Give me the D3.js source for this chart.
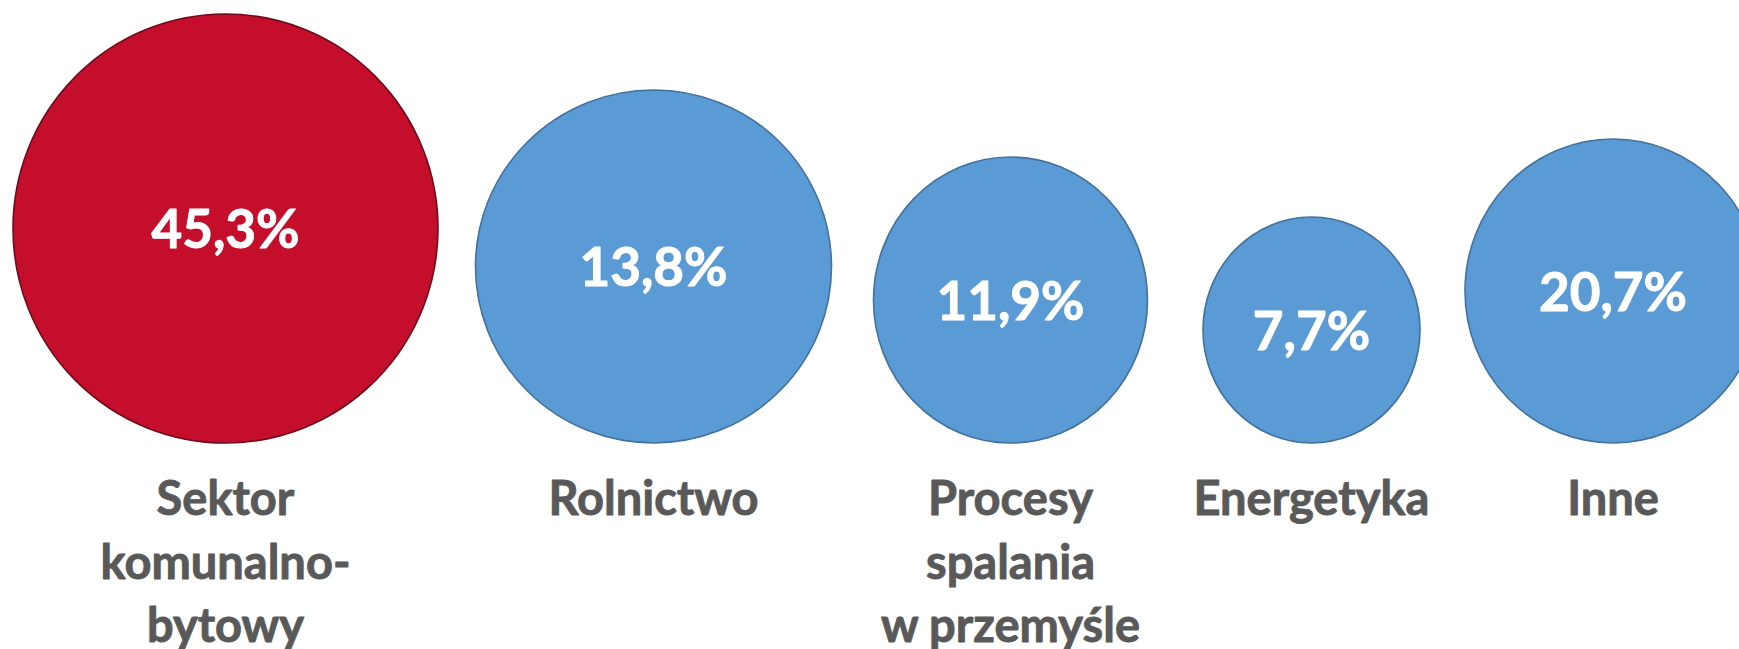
<!DOCTYPE html>
<html lang="pl">
<head>
<meta charset="utf-8">
<script src="https://cdn.jsdelivr.net/npm/d3@7"></script>
<style>
  html, body { margin: 0; padding: 0; background: #ffffff; }
  svg { display: block; }
</style>
</head>
<body>
<div id="chart"></div>
<script>
// Źródła emisji – udział procentowy
const categories = ["Sektor komunalno-bytowy", "Rolnictwo", "Procesy spalania w przemyśle", "Energetyka", "Inne"];
const labelLines = [
  ["Sektor", "komunalno-", "bytowy"],
  ["Rolnictwo"],
  ["Procesy", "spalania", "w przemyśle"],
  ["Energetyka"],
  ["Inne"]
];
const shares = [45.3, 13.8, 11.9, 7.7, 20.7];
const highlighted = "Sektor komunalno-bytowy";

const width = 1739, height = 649;

const svg = d3.select("#chart").append("svg")
  .attr("width", width)
  .attr("height", height);

// Bubble layout along the row
const xScale = d3.scaleOrdinal().domain(categories).range([225.5, 653.5, 1010.5, 1311.5, 1613]);
const rxScale = d3.scaleOrdinal().domain(categories).range([212.5, 178, 137, 108.5, 148]);
const ryScale = d3.scaleOrdinal().domain(categories).range([214.5, 176.5, 143, 113, 152]);
const baseLine = 443; // all bubbles sit on a common bottom line

const fillScale = d3.scaleOrdinal().domain([true, false]).range(["#C40E2C", "#5B9BD5"]);
const strokeScale = d3.scaleOrdinal().domain([true, false]).range(["#6E0A1A", "#41719C"]);

const data = categories.map((c, i) => ({ cat: c, value: shares[i], lines: labelLines[i] }));
const fmt = v => d3.format(".1f")(v).replace(".", ",") + "%";

const fontFamily = "Lato, 'Open Sans', sans-serif";
const valueSize = 53;
const capRatio = 0.7165;

const g = svg.append("g");

const bubbles = g.selectAll("g.bubble")
  .data(data)
  .join("g")
  .attr("class", "bubble");

bubbles.append("ellipse")
  .attr("cx", d => xScale(d.cat))
  .attr("cy", d => baseLine - ryScale(d.cat))
  .attr("rx", d => rxScale(d.cat))
  .attr("ry", d => ryScale(d.cat))
  .attr("fill", d => fillScale(d.cat === highlighted))
  .attr("stroke", d => strokeScale(d.cat === highlighted))
  .attr("stroke-width", 1.6);

// Value inside each bubble
bubbles.append("text")
  .attr("x", d => xScale(d.cat))
  .attr("y", d => baseLine - ryScale(d.cat) + valueSize * capRatio / 2 + 1)
  .attr("text-anchor", "middle")
  .attr("font-family", fontFamily)
  .attr("font-weight", 700)
  .attr("font-size", valueSize)
  .attr("fill", "#ffffff")
  .attr("stroke", "#ffffff")
  .attr("stroke-width", 1)
  .attr("stroke-linejoin", "round")
  .text(d => fmt(d.value));

// Category names under the bubbles
const lineTop = 515, lineStep = 63.5;
bubbles.append("text")
  .attr("text-anchor", "middle")
  .attr("font-family", fontFamily)
  .attr("font-weight", 700)
  .attr("font-size", 47)
  .attr("fill", "#595959")
  .attr("stroke", "#595959")
  .attr("stroke-width", 0.9)
  .attr("stroke-linejoin", "round")
  .selectAll("tspan")
  .data(d => d.lines.map(l => ({ cat: d.cat, line: l })))
  .join("tspan")
  .attr("x", d => xScale(d.cat))
  .attr("y", (d, i) => lineTop + i * lineStep)
  .text(d => d.line);
</script>
</body>
</html>
